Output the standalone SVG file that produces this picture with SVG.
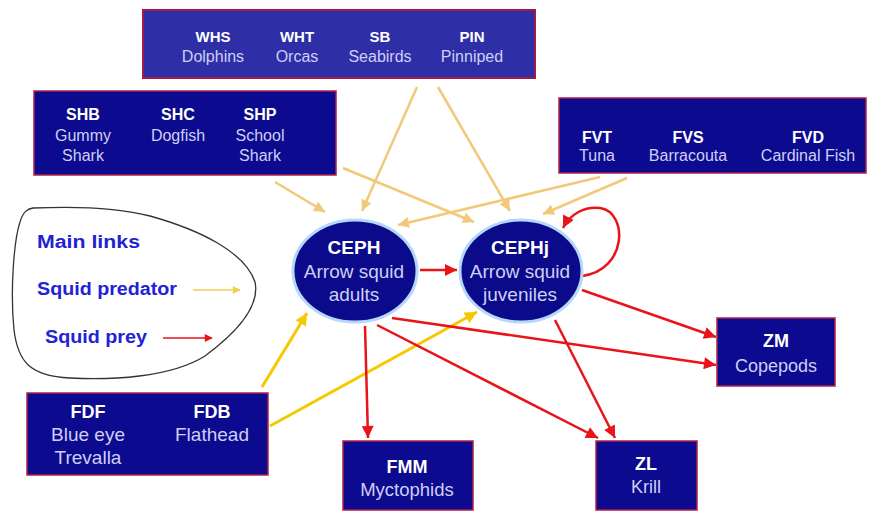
<svg xmlns="http://www.w3.org/2000/svg" width="869" height="516" viewBox="0 0 869 516">
<style>
.box{fill:#0c0a8e;stroke:#b0204a;stroke-width:1.5}
.boxl{fill:#2e2ea6;stroke:#a01c44;stroke-width:2}
.ell{fill:#0a0a8a;stroke:#b4d8f8;stroke-width:3}
text{font-family:"Liberation Sans",Arial,sans-serif;text-anchor:middle}
.c{fill:#ffffff;font-weight:bold}
.n{fill:#cfcff5}
.lg{fill:#2222d4;font-weight:bold;text-anchor:start;font-size:18px}
.tan{stroke:#f2c97a;stroke-width:2.5;fill:none}
.gold{stroke:#f5c800;stroke-width:3;fill:none}
.red{stroke:#e8141a;stroke-width:2.5;fill:none}
</style>
<defs>
<marker id="mt" markerWidth="12" markerHeight="11" refX="10" refY="5" orient="auto" markerUnits="userSpaceOnUse" viewBox="0 0 10 10"><path d="M0,0 L10,5 L0,10 z" fill="#f2c97a"/></marker>
<marker id="mg" markerWidth="13" markerHeight="12" refX="10" refY="5" orient="auto" markerUnits="userSpaceOnUse" viewBox="0 0 10 10"><path d="M0,0 L10,5 L0,10 z" fill="#f5c800"/></marker>
<marker id="mr" markerWidth="13" markerHeight="12" refX="10" refY="5" orient="auto" markerUnits="userSpaceOnUse" viewBox="0 0 10 10"><path d="M0,0 L10,5 L0,10 z" fill="#e8141a"/></marker>
<marker id="mts" markerWidth="9" markerHeight="8" refX="9" refY="5" orient="auto" markerUnits="userSpaceOnUse" viewBox="0 0 10 10"><path d="M0,0 L10,5 L0,10 z" fill="#f0d050"/></marker>
<marker id="mrs" markerWidth="9" markerHeight="8" refX="9" refY="5" orient="auto" markerUnits="userSpaceOnUse" viewBox="0 0 10 10"><path d="M0,0 L10,5 L0,10 z" fill="#e8141a"/></marker>
</defs>
<rect width="869" height="516" fill="#ffffff"/>

<g id="legend">
<path d="M33,208 C80,206 120,208 150,216 C200,230 245,252 255,282 C260,305 240,330 205,356 C170,378 110,380 70,378 C30,376 18,362 14,330 C10,290 14,240 20,222 C23,212 27,209 33,208 Z" fill="#ffffff" stroke="#333333" stroke-width="1.3"/>
<text class="lg" x="37" y="248" textLength="103" lengthAdjust="spacingAndGlyphs">Main links</text>
<text class="lg" x="37" y="295" textLength="140" lengthAdjust="spacingAndGlyphs">Squid predator</text>
<text class="lg" x="45" y="343" textLength="102" lengthAdjust="spacingAndGlyphs">Squid prey</text>
<line x1="193" y1="290" x2="240" y2="290" stroke="#f0d050" stroke-width="1.5" marker-end="url(#mts)"/>
<line x1="163" y1="338" x2="212" y2="338" stroke="#e8141a" stroke-width="1.5" marker-end="url(#mrs)"/>
</g>

<g id="connectors">
<line class="tan" x1="417" y1="87" x2="362" y2="211" marker-end="url(#mt)"/>
<line class="tan" x1="438" y1="87" x2="510" y2="211" marker-end="url(#mt)"/>
<line class="tan" x1="275" y1="182" x2="325" y2="212" marker-end="url(#mt)"/>
<line class="tan" x1="343" y1="168" x2="474" y2="222" marker-end="url(#mt)"/>
<line class="tan" x1="600" y1="177" x2="398" y2="225" marker-end="url(#mt)"/>
<line class="tan" x1="627" y1="178" x2="543" y2="214" marker-end="url(#mt)"/>
<line class="gold" x1="262" y1="387" x2="307" y2="313" marker-end="url(#mg)"/>
<line class="gold" x1="270" y1="426" x2="477" y2="312" marker-end="url(#mg)"/>
<line class="red" x1="420" y1="270" x2="457" y2="270" marker-end="url(#mr)"/>
<path class="red" d="M582,276 C628,270 628,212 600,208 C585,206 570,214 563,228" marker-end="url(#mr)"/>
<line class="red" x1="365" y1="326" x2="368" y2="438" marker-end="url(#mr)"/>
<line class="red" x1="377" y1="325" x2="598" y2="438" marker-end="url(#mr)"/>
<line class="red" x1="392" y1="318" x2="716" y2="365" marker-end="url(#mr)"/>
<line class="red" x1="582" y1="290" x2="716" y2="337" marker-end="url(#mr)"/>
<line class="red" x1="555" y1="320" x2="615" y2="438" marker-end="url(#mr)"/>
</g>

<g id="top-predators">
<rect class="boxl" x="143" y="10" width="392" height="68"/>
<text class="c" x="213" y="42" font-size="15">WHS</text><text class="n" x="213" y="62" font-size="16">Dolphins</text>
<text class="c" x="297" y="42" font-size="15">WHT</text><text class="n" x="297" y="62" font-size="16">Orcas</text>
<text class="c" x="380" y="42" font-size="15">SB</text><text class="n" x="380" y="62" font-size="16">Seabirds</text>
<text class="c" x="472" y="42" font-size="15">PIN</text><text class="n" x="472" y="62" font-size="16">Pinniped</text>
</g>

<g id="sharks">
<rect class="box" x="34" y="91" width="302" height="84"/>
<text class="c" x="83" y="120" font-size="16">SHB</text><text class="n" x="83" y="141" font-size="16">Gummy</text><text class="n" x="83" y="161" font-size="16">Shark</text>
<text class="c" x="178" y="120" font-size="16">SHC</text><text class="n" x="178" y="141" font-size="16">Dogfish</text>
<text class="c" x="260" y="120" font-size="16">SHP</text><text class="n" x="260" y="141" font-size="16">School</text><text class="n" x="260" y="161" font-size="16">Shark</text>
</g>

<g id="fish-predators">
<rect class="box" x="559" y="98" width="307" height="75"/>
<text class="c" x="597" y="143" font-size="16">FVT</text><text class="n" x="597" y="161" font-size="16">Tuna</text>
<text class="c" x="688" y="143" font-size="16">FVS</text><text class="n" x="688" y="161" font-size="16">Barracouta</text>
<text class="c" x="808" y="143" font-size="16">FVD</text><text class="n" x="808" y="161" font-size="16">Cardinal Fish</text>
</g>

<g id="CEPH">
<ellipse class="ell" cx="355" cy="271" rx="62" ry="51"/>
<text class="c" x="354" y="254" font-size="19">CEPH</text>
<text class="n" x="354" y="278" font-size="19">Arrow squid</text>
<text class="n" x="354" y="301" font-size="19">adults</text>
</g>

<g id="CEPHj">
<ellipse class="ell" cx="521" cy="271" rx="61" ry="51"/>
<text class="c" x="520" y="254" font-size="19">CEPHj</text>
<text class="n" x="520" y="278" font-size="19">Arrow squid</text>
<text class="n" x="520" y="301" font-size="19">juveniles</text>
</g>

<g id="demersal">
<rect class="box" x="27" y="393" width="241" height="82"/>
<text class="c" x="88" y="418" font-size="18">FDF</text><text class="n" x="88" y="441" font-size="19">Blue eye</text><text class="n" x="88" y="464" font-size="19">Trevalla</text>
<text class="c" x="212" y="418" font-size="18">FDB</text><text class="n" x="212" y="441" font-size="19">Flathead</text>
</g>

<g id="FMM">
<rect class="box" x="343" y="441" width="130" height="69"/>
<text class="c" x="407" y="473" font-size="18">FMM</text><text class="n" x="407" y="496" font-size="18.5">Myctophids</text>
</g>

<g id="ZL">
<rect class="box" x="596" y="441" width="101" height="69"/>
<text class="c" x="646" y="470" font-size="18">ZL</text><text class="n" x="646" y="493" font-size="18">Krill</text>
</g>

<g id="ZM">
<rect class="box" x="717" y="318" width="118" height="68"/>
<text class="c" x="776" y="347" font-size="18">ZM</text><text class="n" x="776" y="372" font-size="18">Copepods</text>
</g>
</svg>
